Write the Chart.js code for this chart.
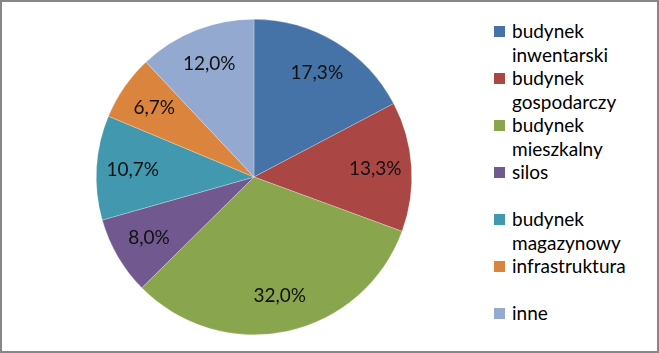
<!DOCTYPE html>
<html>
<head>
<meta charset="utf-8">
<script src="https://cdn.jsdelivr.net/npm/chart.js@4"></script>
<style>
  html, body { margin: 0; padding: 0; background: #fff; }
  #frame { position: relative; width: 655px; height: 349px; border: 2px solid #878787; overflow: hidden; }
  #chartBox { position: absolute; left: 77px; top: 0px; width: 350px; height: 349px; }
  #legend { position: absolute; left: 492px; top: 17px; font-family: Lato, "Open Sans", sans-serif; font-size: 19px; color: #000; }
  .item { position: relative; height: 47px; padding-left: 18px; line-height: 23.5px; }
  .sw { position: absolute; left: 0; top: 7px; width: 11px; height: 11px; }
</style>
</head>
<body>
<div id="frame">
  <div id="chartBox"><canvas id="pie"></canvas></div>
  <div id="legend"></div>
</div>
<script>
var labels = [['budynek', 'inwentarski'], ['budynek', 'gospodarczy'], ['budynek', 'mieszkalny'], ['silos'], ['budynek', 'magazynowy'], ['infrastruktura'], ['inne']];
var values = [17.3, 13.3, 32.0, 8.0, 10.7, 6.7, 12.0];
var colors = ['#4572A7', '#AA4643', '#89A54E', '#71588F', '#4198AF', '#DB843D', '#93A9CF'];

// legend built from the same arrays
var legend = document.getElementById('legend');
labels.forEach(function (lab, i) {
  var d = document.createElement('div');
  d.className = 'item';
  d.innerHTML = '<span class="sw" style="background:' + colors[i] + '"></span>' + lab.join('<br>');
  legend.appendChild(d);
});

// percent labels inside the slices
var pctLabels = {
  id: 'pctLabels',
  afterDatasetsDraw: function (chart) {
    var ctx = chart.ctx;
    var meta = chart.getDatasetMeta(0);
    ctx.save();
    ctx.font = '19px Lato, "Open Sans", sans-serif';
    ctx.fillStyle = '#111';
    ctx.textAlign = 'center';
    ctx.textBaseline = 'middle';
    meta.data.forEach(function (arc, i) {
      var mid = (arc.startAngle + arc.endAngle) / 2;
      var r = arc.outerRadius * 0.77;
      var x = arc.x + Math.cos(mid) * r;
      var y = arc.y + Math.sin(mid) * r;
      ctx.fillText(values[i].toFixed(1).replace('.', ',') + '%', x, y);
    });
    ctx.restore();
  }
};

var ctx = document.getElementById('pie');
var myChart = new Chart(ctx, {
  type: 'pie',
  data: {
    labels: labels.map(function (l) { return l.join(' '); }),
    datasets: [{
      data: values,
      backgroundColor: colors,
      borderColor: 'rgba(255,255,255,0.5)',
      borderWidth: 0.5
    }]
  },
  options: {
    responsive: true,
    maintainAspectRatio: false,
    animation: false,
    layout: { padding: { top: 17, bottom: 16, left: 0, right: 0 } },
    plugins: {
      legend: { display: false },
      tooltip: { enabled: false }
    }
  },
  plugins: [pctLabels]
});
</script>
</body>
</html>
